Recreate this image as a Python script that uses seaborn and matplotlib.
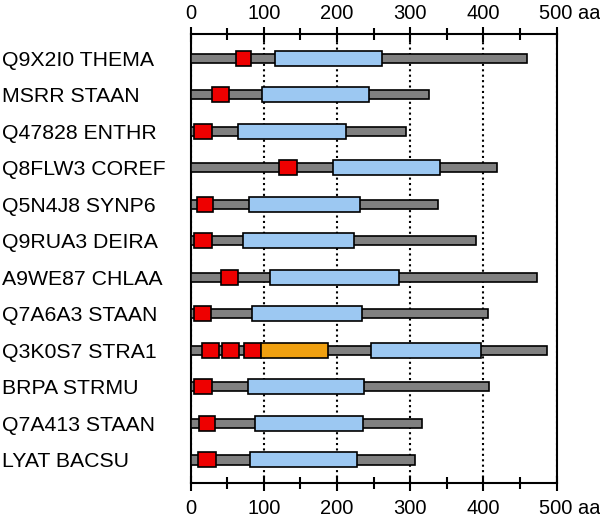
import matplotlib
matplotlib.use("Agg")
import matplotlib.pyplot as plt
import matplotlib.transforms as mtransforms
import seaborn as sns
import pandas as pd

# protein names, top to bottom
proteins = ["Q9X2I0 THEMA", "MSRR STAAN", "Q47828 ENTHR", "Q8FLW3 COREF",
            "Q5N4J8 SYNP6", "Q9RUA3 DEIRA", "A9WE87 CHLAA", "Q7A6A3 STAAN",
            "Q3K0S7 STRA1", "BRPA STRMU", "Q7A413 STAAN", "LYAT BACSU"]
# sequence length (aa)
lengths = [459, 326, 294, 418, 338, 390, 473, 406, 487, 408, 316, 306]

# domains: row index, start, end, kind
dom_row   = [0, 1, 2, 3, 4, 5, 6, 7, 8, 8, 8, 9, 10, 11,
             0, 1, 2, 3, 4, 5, 6, 7, 8, 9, 10, 11,
             8]
dom_start = [62, 29, 4, 121, 8, 4, 41, 4, 16, 43, 73, 4, 12, 10,
             115, 97, 65, 195, 80, 72, 108, 84, 247, 78, 88, 81,
             96]
dom_end   = [83, 53, 29, 145, 30, 29, 65, 28, 39, 66, 96, 29, 33, 34,
             261, 243, 212, 341, 231, 223, 285, 234, 396, 237, 236, 227,
             187]
dom_kind  = ["red"] * 14 + ["blue"] * 12 + ["orange"]

kind_colors = {"red": "#ee0000", "blue": "#9cc8f2", "orange": "#f0a010"}

tick_vals = [0, 100, 200, 300, 400, 500]
tick_labels = ["0", "100", "200", "300", "400", "500 aa"]

df = pd.DataFrame({"protein": proteins, "length": lengths})

sns.set_style("white")
plt.rcParams["font.family"] = ["Liberation Sans", "DejaVu Sans"]

fig = plt.figure(figsize=(6, 5.19), dpi=100)
ax = fig.add_axes([0.3178, 0.0694, 0.61, 0.8651])

# backbone bars
sns.barplot(data=df, x="length", y="protein", orient="h", width=0.25,
            color="#808080", saturation=1, edgecolor="black", linewidth=1.2,
            ax=ax, zorder=3)

# domain boxes
for r, s, e, k in zip(dom_row, dom_start, dom_end, dom_kind):
    ax.barh(r, e - s, left=s, height=0.41, color=kind_colors[k],
            edgecolor="black", linewidth=1.2, zorder=4)

ax.set_xlim(0, 500)
ax.set_ylim(11.63, -0.66)
ax.set_xlabel("")
ax.set_ylabel("")

ax.set_xticks(tick_vals)
ax.set_xticklabels(tick_labels)
ax.set_xticks([50, 150, 250, 350, 450], minor=True)
ax.tick_params(axis="x", which="both", top=True, bottom=True,
               labeltop=True, labelbottom=True, direction="inout",
               width=1.5, color="black", labelcolor="black", labelsize=14.5)
ax.tick_params(axis="x", which="major", length=10.8, pad=2.5)
ax.tick_params(axis="x", which="minor", length=8.4)

ax.tick_params(axis="y", length=0, pad=135.9, labelsize=15.3,
               labelcolor="black")
for lab in ax.get_yticklabels():
    lab.set_horizontalalignment("left")

for sp in ax.spines.values():
    sp.set_visible(True)
    sp.set_color("black")
    sp.set_linewidth(1.5)

ax.xaxis.grid(True, which="major", color="black", linestyle=(0, (1, 1.6)),
              linewidth=1.5)
ax.set_axisbelow(True)

# nudge bottom labels down a little, and "500 aa" so "500" sits on its tick
down = mtransforms.ScaledTranslation(0, -5 / 100, fig.dpi_scale_trans)
right = mtransforms.ScaledTranslation(13 / 100, 0, fig.dpi_scale_trans)
ticks = ax.xaxis.get_major_ticks()
for t in ticks:
    t.label1.set_transform(t.label1.get_transform() + down)
ticks[-1].label1.set_transform(ticks[-1].label1.get_transform() + right)
ticks[-1].label2.set_transform(ticks[-1].label2.get_transform() + right)

fig.savefig("out.png", dpi=100, facecolor="white")
